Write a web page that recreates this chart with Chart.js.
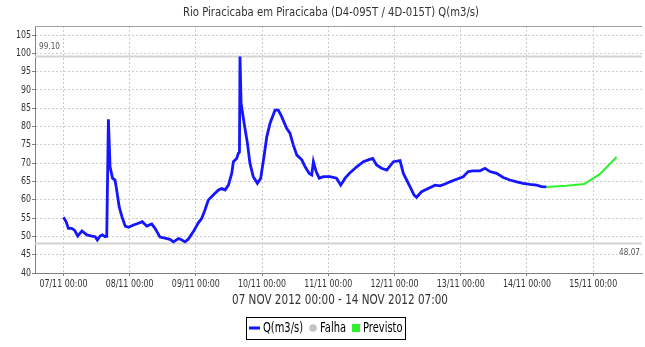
<!DOCTYPE html>
<html>
<head>
<meta charset="utf-8">
<script src="https://cdn.jsdelivr.net/npm/chart.js@4.4.0/dist/chart.umd.min.js"></script>
<style>
  html, body { margin: 0; padding: 0; background: #ffffff; }
  #wrap { width: 645px; height: 347px; }
</style>
</head>
<body>
<div id="wrap"><canvas id="chart" width="645" height="347"></canvas></div>
<script>
// Hours since 07/11/2012 00:00 and observed discharge Q (m3/s)
const qHours = [0, 1.0, 1.8, 3.0, 4.0, 5.2, 6.7, 8.5, 10.3, 11.5, 12.3, 13.3, 14.1, 15.1, 15.7,
  16.3, 16.9, 17.8, 18.7, 19.3, 20.2, 21.2, 22.4, 23.6, 25.4, 27.2, 28.6, 30.2, 32.0, 33.2,
  35.0, 36.8, 38.6, 39.9, 41.7, 42.3, 44.1, 45.3, 47.1, 48.9, 50.1, 51.3, 52.5, 54.3, 56.2,
  57.4, 58.6, 59.8, 61.0, 61.6, 62.8, 63.4, 63.8, 64.0, 64.4, 65.5, 66.7, 67.6, 68.8, 70.3,
  71.5, 72.7, 73.7, 74.9, 76.7, 77.9, 79.1, 80.9, 82.1, 83.3, 84.6, 86.4, 87.6, 89.1, 90.0,
  90.6, 91.6, 92.7, 94.2, 96.6, 99.0, 100.5, 102.1, 103.9, 106.3, 108.7, 110.5, 112.1, 113.5,
  115.3, 117.2, 119.6, 122.0, 123.2, 124.4, 125.6, 127.1, 128.0, 129.8, 132.2, 134.7, 136.5,
  138.3, 140.1, 142.5, 144.9, 146.7, 148.5, 151.0, 152.8, 154.6, 157.0, 159.4, 161.8, 164.3,
  166.6, 169.1, 171.5, 173.3, 175.0];
const qValues = [55.2, 54.0, 52.2, 52.2, 51.7, 50.1, 51.5, 50.4, 50.1, 49.9, 49.0, 50.1, 50.4, 49.9, 50.0,
  82.0, 69.0, 65.9, 65.4, 62.7, 58.1, 55.4, 52.8, 52.5, 53.1, 53.6, 54.0, 52.8, 53.4, 52.2,
  49.8, 49.5, 49.2, 48.5, 49.4, 49.3, 48.5, 49.3, 51.3, 53.7, 54.9, 57.2, 59.9, 61.3, 62.7,
  63.1, 62.7, 64.0, 67.2, 70.4, 71.3, 72.7, 73.0, 99.1, 86.3, 80.9, 75.4, 70.0, 66.3, 64.5,
  65.9, 71.8, 77.2, 80.9, 84.5, 84.5, 82.7, 79.5, 78.2, 75.0, 72.2, 70.9, 69.0, 67.2, 66.8,
  70.4, 67.7, 65.9, 66.3, 66.3, 65.9, 64.0, 65.9, 67.4, 69.0, 70.4, 70.9, 71.3, 69.5,
  68.6, 68.1, 70.4, 70.7, 67.2, 65.4, 63.6, 61.3, 60.7, 62.2, 63.1, 64.0, 63.8,
  64.3, 64.9, 65.6, 66.3, 67.7, 67.9, 67.9, 68.6, 67.7, 67.2, 66.1, 65.4, 64.9,
  64.5, 64.2, 64.0, 63.6, 63.5];

// Forecast ("Previsto") continuing from the last observation
const prevHours = [175.0, 182.4, 188.8, 194.4, 200.5];
const prevValues = [63.5, 63.8, 64.3, 67.0, 71.7];

// Maximum and minimum of the observed period
const limitValues = [99.10, 48.07];

const dayLabels = ['07/11 00:00', '08/11 00:00', '09/11 00:00', '10/11 00:00', '11/11 00:00',
  '12/11 00:00', '13/11 00:00', '14/11 00:00', '15/11 00:00'];
const yTicks = [40, 45, 50, 55, 60, 65, 70, 75, 80, 85, 90, 95, 100, 105];

const chartTitle = 'Rio Piracicaba em Piracicaba (D4-095T / 4D-015T) Q(m3/s)';
const periodTitle = '07 NOV 2012 00:00 - 14 NOV 2012 07:00';

const FONT = "'DejaVu Sans', sans-serif";
Chart.defaults.font.family = FONT;

const toPoints = (xs, ys) => xs.map((x, i) => ({ x: x, y: ys[i] }));

// Narrow lettering: text is compressed horizontally by a width factor
function drawNarrow(ctx, txt, x, y, align, sx) {
  ctx.save();
  ctx.translate(x, y);
  ctx.scale(sx, 1);
  ctx.textAlign = align;
  ctx.fillText(txt, 0, 0);
  ctx.restore();
}

// Width factor so that a sample string fits a given pixel width
function narrowFactor(ctx, sample, width) {
  return width / ctx.measureText(sample).width;
}

// Chart title and period title
const headerText = {
  id: 'headerText',
  afterDraw(chart) {
    const ctx = chart.ctx;
    ctx.save();
    ctx.fillStyle = '#333333';
    ctx.textBaseline = 'middle';
    ctx.font = '12.5px ' + FONT;
    drawNarrow(ctx, chartTitle, 331, 13, 'center', narrowFactor(ctx, chartTitle, 296));
    ctx.font = '13.5px ' + FONT;
    drawNarrow(ctx, periodTitle, 340, 300, 'center', narrowFactor(ctx, periodTitle, 216));
    ctx.restore();
  }
};

// Tick labels of both axes
const axisLabels = {
  id: 'axisLabels',
  afterDraw(chart) {
    const ctx = chart.ctx;
    const xs = chart.scales.x, ys = chart.scales.y;
    ctx.save();
    ctx.fillStyle = '#333333';
    ctx.textBaseline = 'middle';
    ctx.font = '10px ' + FONT;
    const sx = narrowFactor(ctx, dayLabels[0], 48);
    xs.ticks.forEach((t) => {
      drawNarrow(ctx, dayLabels[Math.round(t.value / 24)], xs.getPixelForValue(t.value), 284.5, 'center', sx);
    });
    ys.ticks.forEach((t) => {
      drawNarrow(ctx, String(t.value), chart.chartArea.left - 4, ys.getPixelForValue(t.value), 'right', sx);
    });
    ctx.restore();
  }
};

// Top outline of the plot
const plotFrame = {
  id: 'plotFrame',
  beforeDatasetsDraw(chart) {
    const { ctx, chartArea: a } = chart;
    ctx.save();
    ctx.strokeStyle = '#a0a0a0';
    ctx.lineWidth = 1;
    ctx.beginPath();
    ctx.moveTo(a.left, Math.round(a.top) + 0.5);
    ctx.lineTo(a.right, Math.round(a.top) + 0.5);
    ctx.stroke();
    ctx.restore();
  }
};

// Horizontal max/min lines with their values
const limitLines = {
  id: 'limitLines',
  beforeDatasetsDraw(chart) {
    const { ctx, chartArea: a } = chart;
    const y = chart.scales.y;
    ctx.save();
    ctx.strokeStyle = '#d4d4d4';
    ctx.lineWidth = 2;
    ctx.font = '9.5px ' + FONT;
    ctx.fillStyle = '#555555';
    const sx = narrowFactor(ctx, '99.10', 21);
    limitValues.forEach((v, i) => {
      const py = y.getPixelForValue(v);
      ctx.beginPath();
      ctx.moveTo(a.left, py);
      ctx.lineTo(a.right, py);
      ctx.stroke();
      const txt = v.toFixed(2);
      if (i === 0) {
        ctx.textBaseline = 'bottom';
        drawNarrow(ctx, txt, a.left + 4, py - 5, 'left', sx);
      } else {
        ctx.textBaseline = 'top';
        drawNarrow(ctx, txt, a.right - 2, py + 4, 'right', sx);
      }
    });
    ctx.restore();
  }
};

// Boxed legend under the period title
const legendBox = {
  id: 'legendBox',
  afterDraw(chart) {
    const ctx = chart.ctx;
    const sets = chart.data.datasets;
    ctx.save();
    ctx.font = '13.5px ' + FONT;
    const sx = narrowFactor(ctx, 'Falha', 26);
    const textW = (s) => ctx.measureText(s).width * sx;
    const symW = { line: 12, dot: 8, square: 8 };
    const pad = 2, gapSym = 3, gapItem = 6;
    let total = pad * 2;
    sets.forEach((ds, i) => {
      total += symW[ds.legendKind] + gapSym + textW(ds.label);
      if (i < sets.length - 1) total += gapItem;
    });
    const cx = 325, cy = 328, h = 22;
    let x = Math.round(cx - total / 2);
    ctx.strokeStyle = '#000000';
    ctx.lineWidth = 1;
    ctx.strokeRect(x + 0.5, cy - h / 2 + 0.5, Math.round(total), h);
    x += pad;
    ctx.textBaseline = 'middle';
    sets.forEach((ds) => {
      const w = symW[ds.legendKind];
      ctx.fillStyle = ds.borderColor;
      ctx.strokeStyle = ds.borderColor;
      if (ds.legendKind === 'line') {
        ctx.lineWidth = 3;
        ctx.beginPath();
        ctx.moveTo(x + 1, cy);
        ctx.lineTo(x + w, cy);
        ctx.stroke();
      } else if (ds.legendKind === 'dot') {
        ctx.beginPath();
        ctx.arc(x + w / 2, cy, 3.8, 0, Math.PI * 2);
        ctx.fill();
      } else {
        ctx.fillRect(x, cy - 4, w, 8);
      }
      x += w + gapSym;
      ctx.fillStyle = '#000000';
      drawNarrow(ctx, ds.label, x, cy + 0.5, 'left', sx);
      x += textW(ds.label) + gapItem;
    });
    ctx.restore();
  }
};

const gridColor = '#cccccc';

new Chart(document.getElementById('chart'), {
  type: 'line',
  data: {
    datasets: [
      {
        label: 'Q(m3/s)',
        legendKind: 'line',
        data: toPoints(qHours, qValues),
        borderColor: '#1515ff',
        borderWidth: 2.8,
        pointRadius: 0,
        tension: 0
      },
      {
        label: 'Falha',
        legendKind: 'dot',
        data: [],
        borderColor: '#c4c4c4',
        backgroundColor: '#c4c4c4',
        pointRadius: 0
      },
      {
        label: 'Previsto',
        legendKind: 'square',
        data: toPoints(prevHours, prevValues),
        borderColor: '#2ef02e',
        borderWidth: 2,
        pointRadius: 0,
        tension: 0
      }
    ]
  },
  options: {
    responsive: false,
    devicePixelRatio: 1,
    animation: false,
    layout: { padding: { top: 26, right: 3, left: 0, bottom: 0 } },
    plugins: {
      legend: { display: false },
      title: { display: false },
      tooltip: { enabled: false }
    },
    scales: {
      x: {
        type: 'linear',
        min: -10.3,
        max: 209.7,
        afterBuildTicks: (s) => { s.ticks = dayLabels.map((_, i) => ({ value: i * 24 })); },
        afterFit: (s) => { s.height = 74; },
        ticks: { display: false },
        grid: { color: gridColor, tickColor: '#808080', tickLength: 3 },
        border: { color: '#808080', dash: [2, 2] }
      },
      y: {
        min: 40,
        max: 107.46,
        afterBuildTicks: (s) => { s.ticks = yTicks.map((v) => ({ value: v })); },
        afterFit: (s) => { s.width = 35; },
        ticks: { display: false },
        grid: { color: gridColor, tickColor: '#808080', tickLength: 3 },
        border: { color: '#808080', dash: [2, 2] }
      }
    }
  },
  plugins: [plotFrame, limitLines, headerText, axisLabels, legendBox]
});
</script>
</body>
</html>
